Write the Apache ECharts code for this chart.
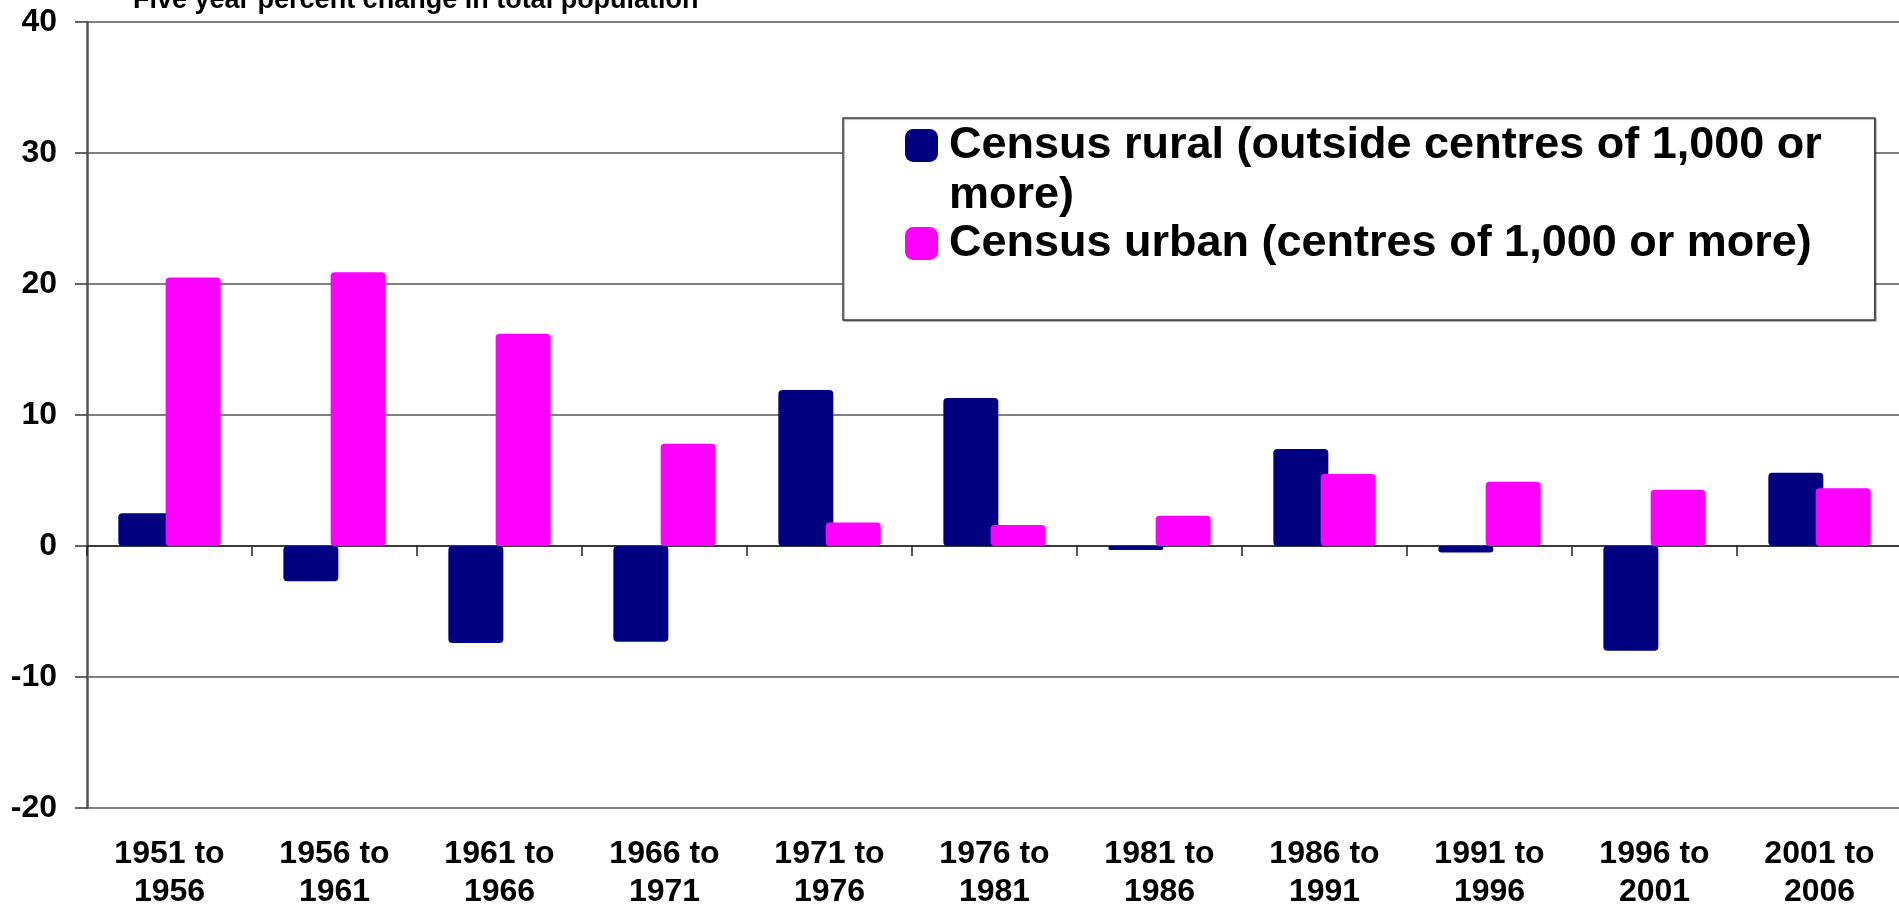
<!DOCTYPE html>
<html>
<head>
<meta charset="utf-8">
<title>Five year percent change in total population</title>
<script src="https://cdn.jsdelivr.net/npm/echarts@6/dist/echarts.min.js"></script>
<style>
    html, body { margin: 0; padding: 0; background: #ffffff; }
    #main { width: 1899px; height: 908px; }
</style>
</head>
<body>
<div id="main"></div>
<script>
// 数据
const categories = ['1951 to\n1956', '1956 to\n1961', '1961 to\n1966', '1966 to\n1971', '1971 to\n1976', '1976 to\n1981',
    '1981 to\n1986', '1986 to\n1991', '1991 to\n1996', '1996 to\n2001', '2001 to\n2006'];
const ruralValues = [2.5, -2.7, -7.4, -7.3, 11.9, 11.3, -0.3, 7.4, -0.5, -8.0, 5.6];
const urbanValues = [20.5, 20.9, 16.2, 7.8, 1.8, 1.6, 2.3, 5.5, 4.9, 4.3, 4.4];
const yTicks = [-20, -10, 0, 10, 20, 30, 40];

const ruralName = 'Census rural (outside centres of 1,000 or more)';
const urbanName = 'Census urban (centres of 1,000 or more)';
const titleText = 'Five year percent change in total population';

const fontFamily = '"Liberation Sans", Arial, sans-serif';

let barChart = echarts.init(document.getElementById('main'), null, { renderer: 'canvas' });

const option = {
    backgroundColor: '#ffffff',
    animation: false,
    title: {
        text: titleText,
        left: 133,
        top: -13,
        padding: 0,
        textStyle: { fontFamily, fontSize: 27, fontWeight: 'bold', color: '#000' }
    },
    legend: {
        orient: 'vertical',
        left: 843,
        top: 118,
        // 第一项文字前面加一个空行, 让图标对齐第一行; 外框用负的 padding 收回来
        padding: [-47.5, 53, 51.5, 62],
        itemWidth: 33,
        itemHeight: 33,
        itemGap: -2,
        icon: 'roundRect',
        backgroundColor: '#ffffff',
        borderColor: '#404040',
        borderWidth: 1.5,
        borderRadius: 0,
        shadowColor: 'rgba(0,0,0,0.35)',
        shadowOffsetX: 1,
        shadowOffsetY: 1,
        shadowBlur: 1,
        textStyle: { fontFamily, fontSize: 45, fontWeight: 'bold', color: '#000', lineHeight: 50, padding: [0, 0, 0, 6] },
        formatter: function (name) {
            return name === ruralName ? '\nCensus rural (outside centres of 1,000 or\nmore)' : name;
        },
        data: [ruralName, urbanName]
    },
    grid: {
        left: 87,
        right: -3,
        top: 22,
        bottom: 100,
        containLabel: false,
        outerBoundsMode: 'none'
    },
    xAxis: {
        type: 'category',
        data: categories,
        axisLine: { onZero: true, lineStyle: { color: '#222', width: 1.5 } },
        axisTick: { show: true, length: 10, lineStyle: { color: '#222', width: 1.5 } },
        axisLabel: {
            // 标签在网格底部下面
            margin: 27,
            fontFamily,
            fontSize: 32,
            fontWeight: 'bold',
            color: '#000',
            lineHeight: 38,
            interval: 0
        }
    },
    yAxis: {
        type: 'value',
        min: yTicks[0],
        max: yTicks[yTicks.length - 1],
        interval: 10,
        axisLine: { show: true, lineStyle: { color: '#555', width: 2.5 } },
        axisTick: { show: true, length: 12, lineStyle: { color: '#333', width: 1.5 } },
        axisLabel: { margin: 30, fontFamily, fontSize: 32, fontWeight: 'bold', color: '#000' },
        splitLine: { show: true, lineStyle: { color: '#808080', width: 2 } }
    },
    series: [
        {
            name: ruralName,
            type: 'bar',
            data: ruralValues,
            barWidth: 55,
            barGap: '-14%',
            itemStyle: { color: '#000080', borderRadius: 4 }
        },
        {
            name: urbanName,
            type: 'bar',
            data: urbanValues,
            barWidth: 55,
            barGap: '-14%',
            itemStyle: { color: '#ff00ff', borderRadius: 4 }
        }
    ]
};

barChart.setOption(option);
</script>
</body>
</html>
